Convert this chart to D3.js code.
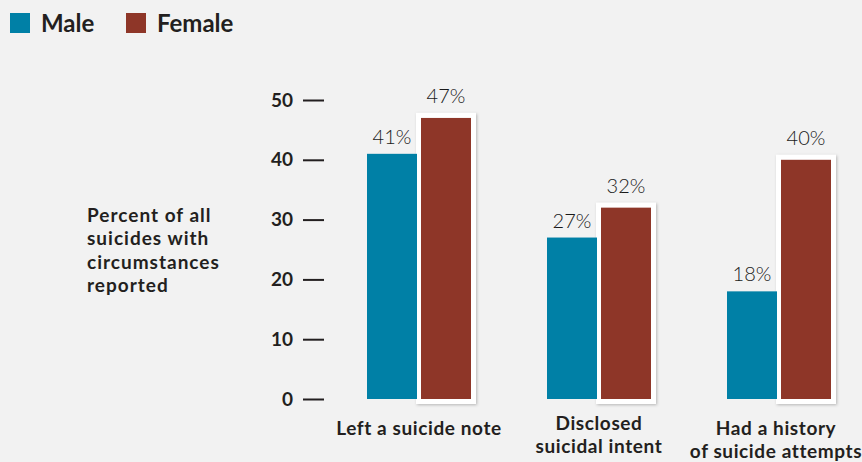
<!DOCTYPE html>
<html>
<head>
<meta charset="utf-8">
<script src="https://d3js.org/d3.v7.min.js"></script>
<style>
  body { margin: 0; background: #f2f2f2; }
  svg { display: block; font-family: Lato, "Open Sans", sans-serif; }
</style>
</head>
<body>
<div id="chart"></div>
<script>
// ---------------------- data ----------------------
var categories = ["Left a suicide note", "Disclosed suicidal intent", "Had a history of suicide attempts"];
var categoryLines = [["Left a suicide note"], ["Disclosed", "suicidal intent"], ["Had a history", "of suicide attempts"]];
var series = ["Male", "Female"];
var maleValues = [41, 27, 18];
var femaleValues = [47, 32, 40];
var yTicks = [0, 10, 20, 30, 40, 50];
var yTitle = ["Percent of all", "suicides with", "circumstances", "reported"];
var colors = ["#0080a6", "#8e3628"];

// ---------------------- svg ----------------------
var svg = d3.select("#chart")
     .append("svg")
     .attr("width", 862)
     .attr("height", 462)
     .style("background", "#f2f2f2");

var defs = svg.append("defs");
var filt = defs.append("filter").attr("id", "shadow")
     .attr("x", "-20%").attr("y", "-10%").attr("width", "140%").attr("height", "120%");
filt.append("feDropShadow")
     .attr("dx", 1).attr("dy", 1).attr("stdDeviation", 1.5)
     .attr("flood-color", "#000").attr("flood-opacity", 0.25);

var x = d3.scaleBand().domain(categories).range([367, 831]).paddingInner(76 / 180).paddingOuter(0);
var xs = d3.scaleBand().domain(series).range([0, x.bandwidth()]).paddingInner(4 / 54).paddingOuter(0);
var y = d3.scaleLinear().domain([0, 50]).range([399, 100]);
var color = d3.scaleOrdinal().domain(series).range(colors);

var rows = categories.map(function (c, i) {
  return { cat: c, lines: categoryLines[i], Male: maleValues[i], Female: femaleValues[i] };
});

// ---------------------- legend ----------------------
var legendX = [10, 126];
var legend = svg.selectAll("g.legend").data(series).enter().append("g")
     .attr("class", "legend")
     .attr("transform", function (d, i) { return "translate(" + legendX[i] + ",13)"; });
legend.append("rect").attr("width", 20).attr("height", 20).attr("fill", function (d) { return color(d); });
legend.append("text").attr("x", 31).attr("y", 19)
     .text(function (d) { return d; })
     .style("font-size", "24px").style("font-weight", "bold").attr("fill", "#231f20");

// ---------------------- y axis ----------------------
var yAxis = svg.append("g")
     .attr("transform", "translate(324,0)")
     .call(d3.axisLeft(y).tickValues(yTicks).tickSize(21).tickPadding(10));
yAxis.select(".domain").remove();
yAxis.selectAll(".tick line").attr("stroke", "#231f20").attr("stroke-width", 2);
yAxis.selectAll(".tick text")
     .attr("fill", "#231f20")
     .style("font-size", "19px").style("font-weight", "bold")
     .style("font-family", "Lato, 'Open Sans', sans-serif");

svg.append("text")
     .attr("x", 87).attr("y", 222)
     .attr("fill", "#231f20")
     .style("font-size", "19px").style("font-weight", "bold")
     .style("letter-spacing", "1px")
     .selectAll("tspan").data(yTitle).enter().append("tspan")
     .attr("x", 87).attr("dy", function (d, i) { return i === 0 ? 0 : 23.3; })
     .text(function (d) { return d; });

// ---------------------- bars ----------------------
var groups = svg.selectAll("g.group").data(rows).enter().append("g")
     .attr("class", "group")
     .attr("transform", function (d) { return "translate(" + x(d.cat) + ",0)"; });

// white frame behind female bar
groups.append("rect")
     .attr("x", xs("Female") - 5)
     .attr("y", function (d) { return y(d.Female) - 5; })
     .attr("width", xs.bandwidth() + 10)
     .attr("height", function (d) { return y(0) - y(d.Female) + 10; })
     .attr("fill", "#ffffff")
     .attr("filter", "url(#shadow)");

series.forEach(function (s) {
  groups.append("rect")
       .attr("x", xs(s))
       .attr("y", function (d) { return y(d[s]); })
       .attr("width", xs.bandwidth())
       .attr("height", function (d) { return y(0) - y(d[s]); })
       .attr("fill", color(s));

  groups.append("text")
       .attr("x", xs(s) + xs.bandwidth() / 2)
       .attr("y", function (d) { return y(d[s]) - (s === "Female" ? 15 : 10); })
       .attr("text-anchor", "middle")
       .attr("fill", "#1a1a1a")
       .style("font-size", "20px").style("font-weight", "300")
       .text(function (d) { return d[s] + "%"; });
});

// ---------------------- category labels ----------------------
var labelTop = [435, 430, 435];
groups.append("text")
     .attr("text-anchor", "middle")
     .attr("fill", "#231f20")
     .style("font-size", "19px").style("font-weight", "bold")
     .style("letter-spacing", "0.6px")
     .each(function (d, i) {
       var t = d3.select(this);
       d.lines.forEach(function (ln, j) {
         t.append("tspan")
          .attr("x", x.bandwidth() / 2 + (i === 2 ? -3 : 0))
          .attr("y", labelTop[i] + j * 23)
          .text(ln);
       });
     });
</script>
</body>
</html>
